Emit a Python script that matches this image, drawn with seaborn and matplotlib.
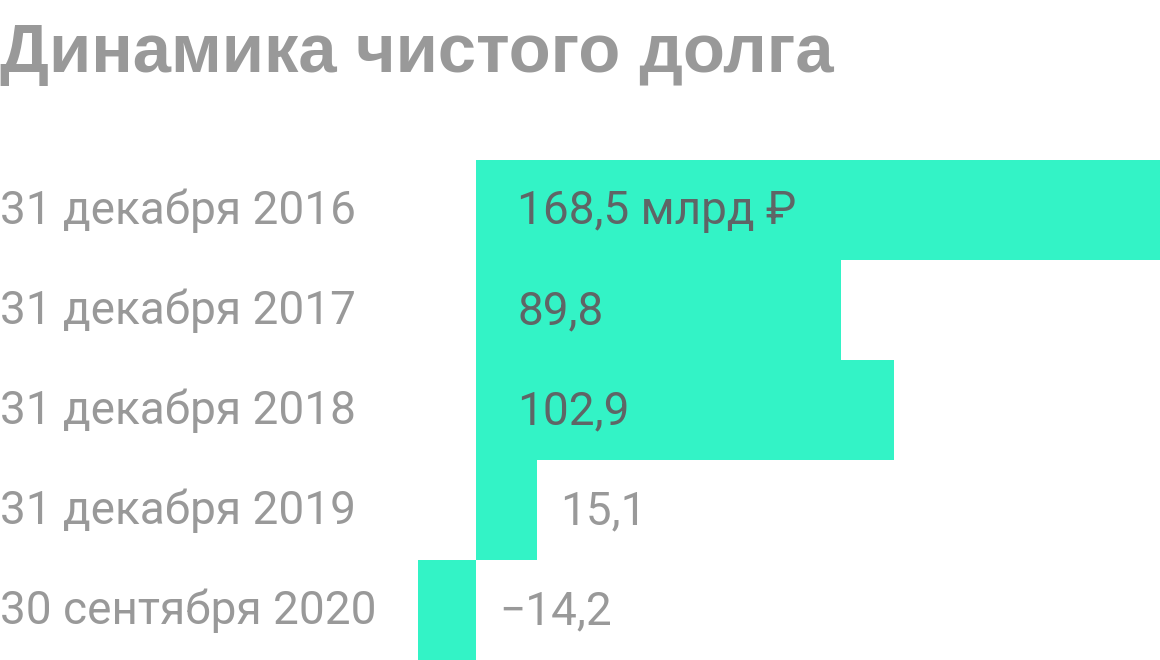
import numpy as np
import pandas as pd
import seaborn as sns
import matplotlib.pyplot as plt

dates = ['31 декабря 2016', '31 декабря 2017', '31 декабря 2018',
         '31 декабря 2019', '30 сентября 2020']
debt = [168.5, 89.8, 102.9, 15.1, -14.2]
value_labels = ['168,5 млрд ₽', '89,8', '102,9', '15,1', '−14,2']

df = pd.DataFrame({'date': dates, 'debt': debt})

sns.set_theme(style='white')
plt.rcParams['font.family'] = ['Roboto', 'DejaVu Sans']

fig = plt.figure(figsize=(11.6, 6.6), dpi=100)
ax = fig.add_axes([0, 0, 1, 500 / 660])

sns.barplot(data=df, x='debt', y='date', order=dates, orient='h',
            color='#33f3c6', saturation=1, width=1, linewidth=0, ax=ax)

# zero sits at x=476 px, top bar reaches the right edge
px_per_unit = 684 / 168.5
ax.set_xlim(-476 / px_per_unit, 168.5)
ax.set_ylim(len(dates) - 0.5, -0.5)
ax.axis('off')

for i, (v, lab) in enumerate(zip(debt, value_labels)):
    if v > 50:
        ax.annotate(lab, (0, i), xytext=(41 * 0.72, 2.5), textcoords='offset points',
                    ha='left', va='center_baseline', fontsize=33, color='#5f6566')
    else:
        ax.annotate(lab, (max(v, 0), i), xytext=(23 * 0.72, 2.5), textcoords='offset points',
                    ha='left', va='center_baseline', fontsize=33, color='#999999')
    ax.annotate(dates[i], (0, i), xycoords=ax.get_yaxis_transform(),
                xytext=(0, 2.5), textcoords='offset points',
                ha='left', va='center_baseline', fontsize=33, color='#999999')

fig.text(0, 1 - 72 / 660, 'Динамика чистого долга', ha='left', va='baseline',
         fontsize=49.5, fontweight='bold', color='#999999',
         family=['Liberation Sans', 'DejaVu Sans'])

fig.savefig('out.png', dpi=100)
